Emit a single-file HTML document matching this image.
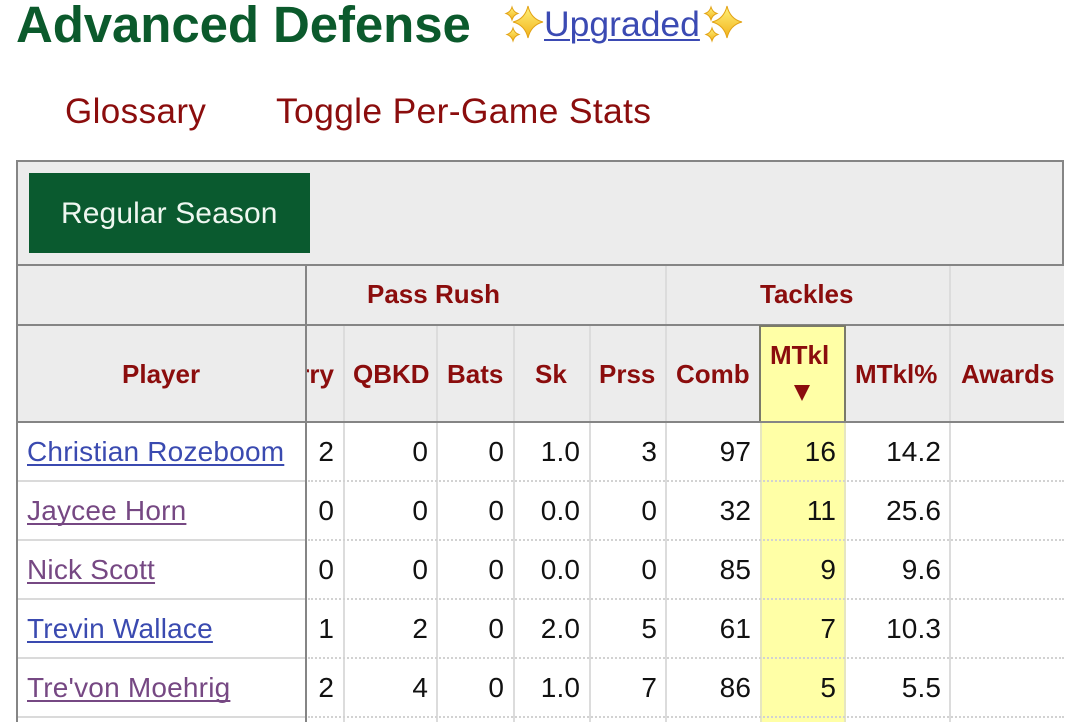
<!DOCTYPE html>
<html><head><meta charset="utf-8"><style>
*{margin:0;padding:0;box-sizing:border-box}
body{width:1080px;height:722px;overflow:hidden;background:#fff;font-family:"Liberation Sans",Arial,sans-serif}
#c{position:relative;width:1080px;height:722px;overflow:hidden}
.a{position:absolute;white-space:nowrap}
.h{font-size:26px;line-height:26px;font-weight:bold;color:#8b0d0d}
.n{font-size:28px;line-height:28px;color:#111;text-align:right;letter-spacing:0.1px}
.nm{font-size:28px;line-height:30px;text-decoration:underline;text-decoration-thickness:2px;text-underline-offset:3px;text-decoration-skip-ink:none;letter-spacing:0.2px}
.blue{color:#3a4ab0}.purp{color:#764883}
.vl{position:absolute;width:2px;background:#dcdcdc}
.dot{position:absolute;height:0;border-top:2px dotted #d2d2d2}
.sol{position:absolute;height:2px;background:#dadada}
</style></head><body><div id="c">

<div class="a" style="left:16px;top:-1px;font-size:51px;line-height:51px;font-weight:bold;color:#0b5a2c;letter-spacing:-0.1px">Advanced Defense</div>

<svg class="a" style="left:495px;top:0" width="260" height="50" viewBox="495 0 260 50">
 <defs><linearGradient id="g" x1="0" y1="0" x2="0" y2="1"><stop offset="0" stop-color="#fff27a"/><stop offset="1" stop-color="#f2b21a"/></linearGradient></defs>
 <g fill="url(#g)" stroke="#e2a316" stroke-width="1">
  <path d="M528,6 Q531,19 543,22 Q531,25 528,38 Q525,25 513,22 Q525,19 528,6Z"/>
  <path d="M512,7 Q513.5,12 518,13.5 Q513.5,15 512,20 Q510.5,15 506,13.5 Q510.5,12 512,7Z"/>
  <path d="M513,28 Q514.5,33 519,34.5 Q514.5,36 513,41 Q511.5,36 507,34.5 Q511.5,33 513,28Z"/>
  <path d="M727,6 Q730,19 742,22 Q730,25 727,38 Q724,25 712,22 Q724,19 727,6Z"/>
  <path d="M711,7 Q712.5,12 717,13.5 Q712.5,15 711,20 Q709.5,15 705,13.5 Q709.5,12 711,7Z"/>
  <path d="M712,28 Q713.5,33 718,34.5 Q713.5,36 712,41 Q710.5,36 706,34.5 Q710.5,33 712,28Z"/>
 </g>
</svg>
<div class="a" style="left:544px;top:6px;font-size:35.5px;line-height:36px;color:#3b4ab3;text-decoration:underline;text-decoration-thickness:2px;text-underline-offset:3px">Upgraded</div>

<div class="a" style="left:65px;top:94px;font-size:35px;line-height:35px;color:#8b0d0d;letter-spacing:0.4px">Glossary</div>
<div class="a" style="left:276px;top:94px;font-size:35.5px;line-height:35px;color:#8b0d0d;letter-spacing:0.3px">Toggle Per-Game Stats</div>

<!-- caption box -->
<div class="a" style="left:16px;top:160px;width:1048px;height:106px;background:#ececec;border:2px solid #858585"></div>
<div class="a" style="left:29px;top:173px;width:281px;height:80px;background:#0a5a2f"></div>
<div class="a" style="left:61px;top:199px;font-size:30px;line-height:30px;color:#eef7f0;letter-spacing:0.1px">Regular Season</div>

<!-- over header -->
<div class="a" style="left:16px;top:266px;width:1048px;height:157px;background:#ececec"></div>
<div class="a" style="left:16px;top:264px;width:2px;height:458px;background:#858585"></div>
<div class="vl" style="left:665px;top:266px;height:59px"></div>
<div class="vl" style="left:949px;top:266px;height:59px"></div>
<div class="a h" style="left:367px;top:281px">Pass Rush</div>
<div class="a h" style="left:760px;top:281px">Tackles</div>
<div class="a" style="left:16px;top:324px;width:1048px;height:2px;background:#858585"></div>

<!-- header row -->
<div class="vl" style="left:343px;top:326px;height:396px"></div>
<div class="vl" style="left:436px;top:326px;height:396px"></div>
<div class="vl" style="left:513px;top:326px;height:396px"></div>
<div class="vl" style="left:589px;top:326px;height:396px"></div>
<div class="vl" style="left:665px;top:326px;height:396px"></div>
<div class="vl" style="left:949px;top:326px;height:396px"></div>
<div class="a" style="left:760px;top:423px;width:86px;height:299px;background:#ffffa6;border-left:2px solid #e6e6c0;border-right:2px solid #e6e6c0"></div>
<div class="a" style="left:759px;top:325px;width:87px;height:98px;background:#ffffa6;border:2px solid #7a7a6a"></div>
<div class="a h" style="left:122px;top:361px">Player</div>
<div class="a" style="left:307px;top:355px;width:36px;height:40px;overflow:hidden"><div class="a h" style="right:9px;top:6px">Hrry</div></div>
<div class="a h" style="left:353px;top:361px">QBKD</div>
<div class="a h" style="left:447px;top:361px">Bats</div>
<div class="a h" style="left:535px;top:361px">Sk</div>
<div class="a h" style="left:599px;top:361px">Prss</div>
<div class="a h" style="left:676px;top:361px">Comb</div>
<div class="a h" style="left:770px;top:342px">MTkl</div>
<div class="a" style="left:794px;top:385px;width:0;height:0;border-left:8px solid transparent;border-right:8px solid transparent;border-top:16px solid #8b0d0d"></div>
<div class="a h" style="left:855px;top:361px">MTkl%</div>
<div class="a h" style="left:961px;top:361px">Awards</div>
<div class="a" style="left:16px;top:421px;width:1048px;height:2px;background:#858585"></div>

<!-- row separators -->
<div class="sol" style="left:18px;top:480px;width:288px"></div>
<div class="sol" style="left:18px;top:539px;width:288px"></div>
<div class="sol" style="left:18px;top:598px;width:288px"></div>
<div class="sol" style="left:18px;top:657px;width:288px"></div>
<div class="sol" style="left:18px;top:716px;width:288px"></div>
<div class="dot" style="left:308px;top:480px;width:756px"></div>
<div class="dot" style="left:308px;top:539px;width:756px"></div>
<div class="dot" style="left:308px;top:598px;width:756px"></div>
<div class="dot" style="left:308px;top:657px;width:756px"></div>
<div class="dot" style="left:308px;top:716px;width:756px"></div>

<div class="a" style="left:305px;top:264px;width:2px;height:458px;background:#858585"></div>

<!-- row 1 -->
<div class="a nm blue" style="left:27px;top:437px">Christian Rozeboom</div>
<div class="a n" style="right:746px;top:438px">2</div>
<div class="a n" style="right:652px;top:438px">0</div>
<div class="a n" style="right:576px;top:438px">0</div>
<div class="a n" style="right:500px;top:438px">1.0</div>
<div class="a n" style="right:423px;top:438px">3</div>
<div class="a n" style="right:329px;top:438px">97</div>
<div class="a n" style="right:244px;top:438px">16</div>
<div class="a n" style="right:139px;top:438px">14.2</div>
<!-- row 2 -->
<div class="a nm purp" style="left:27px;top:496px">Jaycee Horn</div>
<div class="a n" style="right:746px;top:497px">0</div>
<div class="a n" style="right:652px;top:497px">0</div>
<div class="a n" style="right:576px;top:497px">0</div>
<div class="a n" style="right:500px;top:497px">0.0</div>
<div class="a n" style="right:423px;top:497px">0</div>
<div class="a n" style="right:329px;top:497px">32</div>
<div class="a n" style="right:244px;top:497px">11</div>
<div class="a n" style="right:139px;top:497px">25.6</div>
<!-- row 3 -->
<div class="a nm purp" style="left:27px;top:555px">Nick Scott</div>
<div class="a n" style="right:746px;top:556px">0</div>
<div class="a n" style="right:652px;top:556px">0</div>
<div class="a n" style="right:576px;top:556px">0</div>
<div class="a n" style="right:500px;top:556px">0.0</div>
<div class="a n" style="right:423px;top:556px">0</div>
<div class="a n" style="right:329px;top:556px">85</div>
<div class="a n" style="right:244px;top:556px">9</div>
<div class="a n" style="right:139px;top:556px">9.6</div>
<!-- row 4 -->
<div class="a nm blue" style="left:27px;top:614px">Trevin Wallace</div>
<div class="a n" style="right:746px;top:615px">1</div>
<div class="a n" style="right:652px;top:615px">2</div>
<div class="a n" style="right:576px;top:615px">0</div>
<div class="a n" style="right:500px;top:615px">2.0</div>
<div class="a n" style="right:423px;top:615px">5</div>
<div class="a n" style="right:329px;top:615px">61</div>
<div class="a n" style="right:244px;top:615px">7</div>
<div class="a n" style="right:139px;top:615px">10.3</div>
<!-- row 5 -->
<div class="a nm purp" style="left:27px;top:673px">Tre'von Moehrig</div>
<div class="a n" style="right:746px;top:674px">2</div>
<div class="a n" style="right:652px;top:674px">4</div>
<div class="a n" style="right:576px;top:674px">0</div>
<div class="a n" style="right:500px;top:674px">1.0</div>
<div class="a n" style="right:423px;top:674px">7</div>
<div class="a n" style="right:329px;top:674px">86</div>
<div class="a n" style="right:244px;top:674px">5</div>
<div class="a n" style="right:139px;top:674px">5.5</div>

</div></body></html>
